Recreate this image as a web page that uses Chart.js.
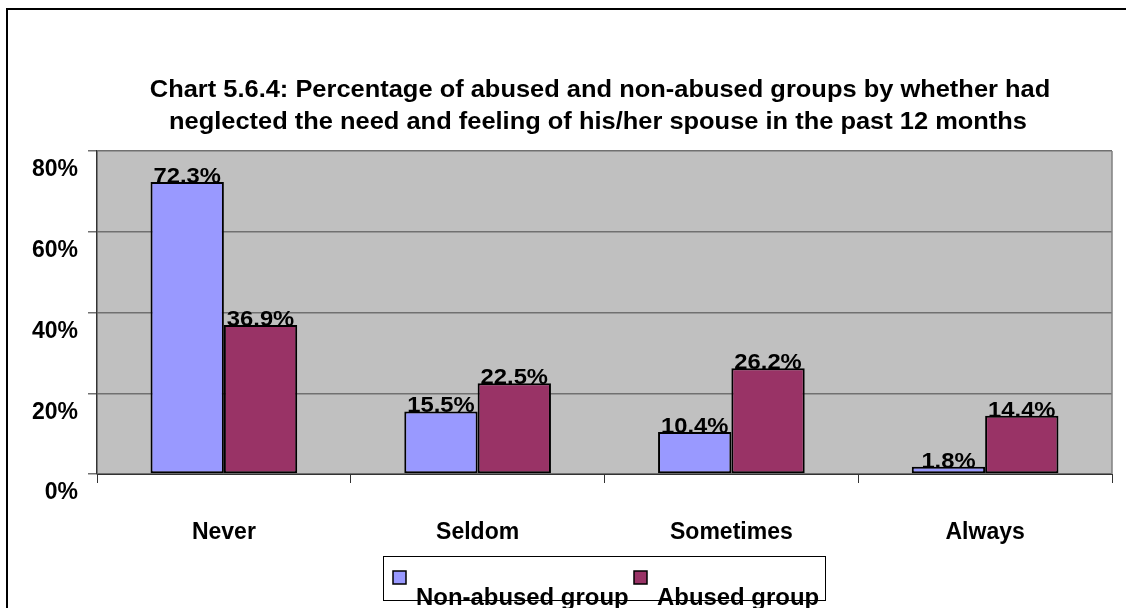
<!DOCTYPE html>
<html>
<head>
<meta charset="utf-8">
<script src="https://cdn.jsdelivr.net/npm/chart.js@4/dist/chart.umd.min.js"></script>
<style>
  html, body { margin: 0; padding: 0; background: #fff; }
  #wrap { position: relative; width: 1126px; height: 608px; overflow: hidden; }
  #frame { position: absolute; left: 6px; top: 8px; width: 1200px; height: 700px;
           border-top: 2px solid #000; border-left: 2px solid #000; }
  canvas { position: absolute; left: 0; top: 0; }
</style>
</head>
<body>
<div id="wrap">
  <div id="frame"></div>
  <canvas id="c" width="1126" height="608"></canvas>
</div>
<script>
const titleLines = [
  "Chart 5.6.4: Percentage of abused and non-abused groups by whether had",
  "neglected the need and feeling of his/her spouse in the past 12 months"
];
const categories = ["Never", "Seldom", "Sometimes", "Always"];
const seriesNames = ["Non-abused group", "Abused group"];
const nonAbused = [72.3, 15.5, 10.4, 1.8];
const abused = [36.9, 22.5, 26.2, 14.4];
const yTicks = [0, 20, 40, 60, 80];

const FONT = "'Liberation Sans', Arial, sans-serif";

function stretchedText(ctx, text, x, y, sx, align) {
  ctx.save();
  ctx.translate(x, y);
  ctx.scale(sx, 1);
  ctx.textAlign = align;
  ctx.fillText(text, 0, 0);
  ctx.restore();
}

const customPlugin = {
  id: 'custom',
  beforeDraw(chart) {
    const {ctx, chartArea: a} = chart;
    ctx.save();
    ctx.fillStyle = '#C0C0C0';
    ctx.fillRect(a.left, a.top, a.right - a.left, a.bottom - a.top);
    ctx.restore();
  },
  afterDatasetsDraw(chart) {
    const {ctx, chartArea: a} = chart;
    ctx.save();
    ctx.strokeStyle = '#808080';
    ctx.lineWidth = 1.5;
    ctx.beginPath();
    ctx.moveTo(a.right, a.top);
    ctx.lineTo(a.right, a.bottom);
    ctx.stroke();
    ctx.fillStyle = '#000';
    ctx.font = "bold 22px " + FONT;
    ctx.textBaseline = 'alphabetic';
    chart.data.datasets.forEach((ds, i) => {
      const meta = chart.getDatasetMeta(i);
      meta.data.forEach((bar, j) => {
        stretchedText(ctx, ds.data[j].toFixed(1) + '%', bar.x, bar.y + 1, 1.08, 'center');
      });
    });
    ctx.font = "bold 24px " + FONT;
    stretchedText(ctx, titleLines[0], 600, 97, 1.06, 'center');
    stretchedText(ctx, titleLines[1], 598, 129, 1.06, 'center');
    const lx = 383, ly = 556, lw = 442, lh = 44;
    ctx.strokeStyle = '#000';
    ctx.lineWidth = 1;
    ctx.strokeRect(lx + 0.5, ly + 0.5, lw, lh);
    const sq = [[393, 571], [634, 571]];
    const tx = [416, 657];
    chart.data.datasets.forEach((ds, i) => {
      ctx.fillStyle = ds.backgroundColor;
      ctx.fillRect(sq[i][0], sq[i][1], 13, 13);
      ctx.lineWidth = 1.5;
      ctx.strokeStyle = '#000';
      ctx.strokeRect(sq[i][0], sq[i][1], 13, 13);
      ctx.fillStyle = '#000';
      ctx.font = "bold 23px " + FONT;
      stretchedText(ctx, ds.label, tx[i], 605, 1.04, 'left');
    });
    ctx.restore();
  }
};

new Chart(document.getElementById('c'), {
  type: 'bar',
  data: {
    labels: categories,
    datasets: [
      { label: seriesNames[0], data: nonAbused, backgroundColor: '#9999FF',
        borderColor: '#000', borderWidth: 2, borderSkipped: false,
        categoryPercentage: 0.578, barPercentage: 1 },
      { label: seriesNames[1], data: abused, backgroundColor: '#993366',
        borderColor: '#000', borderWidth: 2, borderSkipped: false,
        categoryPercentage: 0.578, barPercentage: 1 }
    ]
  },
  options: {
    responsive: false,
    animation: false,
    events: [],
    layout: { padding: { left: 0, right: 14, top: 151, bottom: 0 } },
    plugins: { legend: { display: false }, title: { display: false }, tooltip: { enabled: false } },
    scales: {
      x: {
        afterFit(s) { s.height = 134; },
        offset: true,
        grid: { offset: true, drawOnChartArea: false, drawTicks: true, tickLength: 9,
                color: '#333', lineWidth: 1 },
        border: { display: true, color: '#333', width: 1 },
        ticks: { color: '#000', font: { family: FONT, size: 23, weight: 'bold' }, padding: 36,
                 maxRotation: 0 }
      },
      y: {
        afterFit(s) { s.width = 97; },
        min: 0, max: 80,
        afterBuildTicks(s) { s.ticks = yTicks.map(v => ({ value: v })); },
        grid: { color: '#707070', lineWidth: 1.5, drawTicks: true, tickLength: 9 },
        border: { display: true, color: '#333', width: 1.5 },
        ticks: { color: '#000', font: { family: FONT, size: 23, weight: 'bold' },
                 padding: 10, labelOffset: 19, callback: v => v + '%' }
      }
    }
  },
  plugins: [customPlugin]
});
</script>
</body>
</html>
